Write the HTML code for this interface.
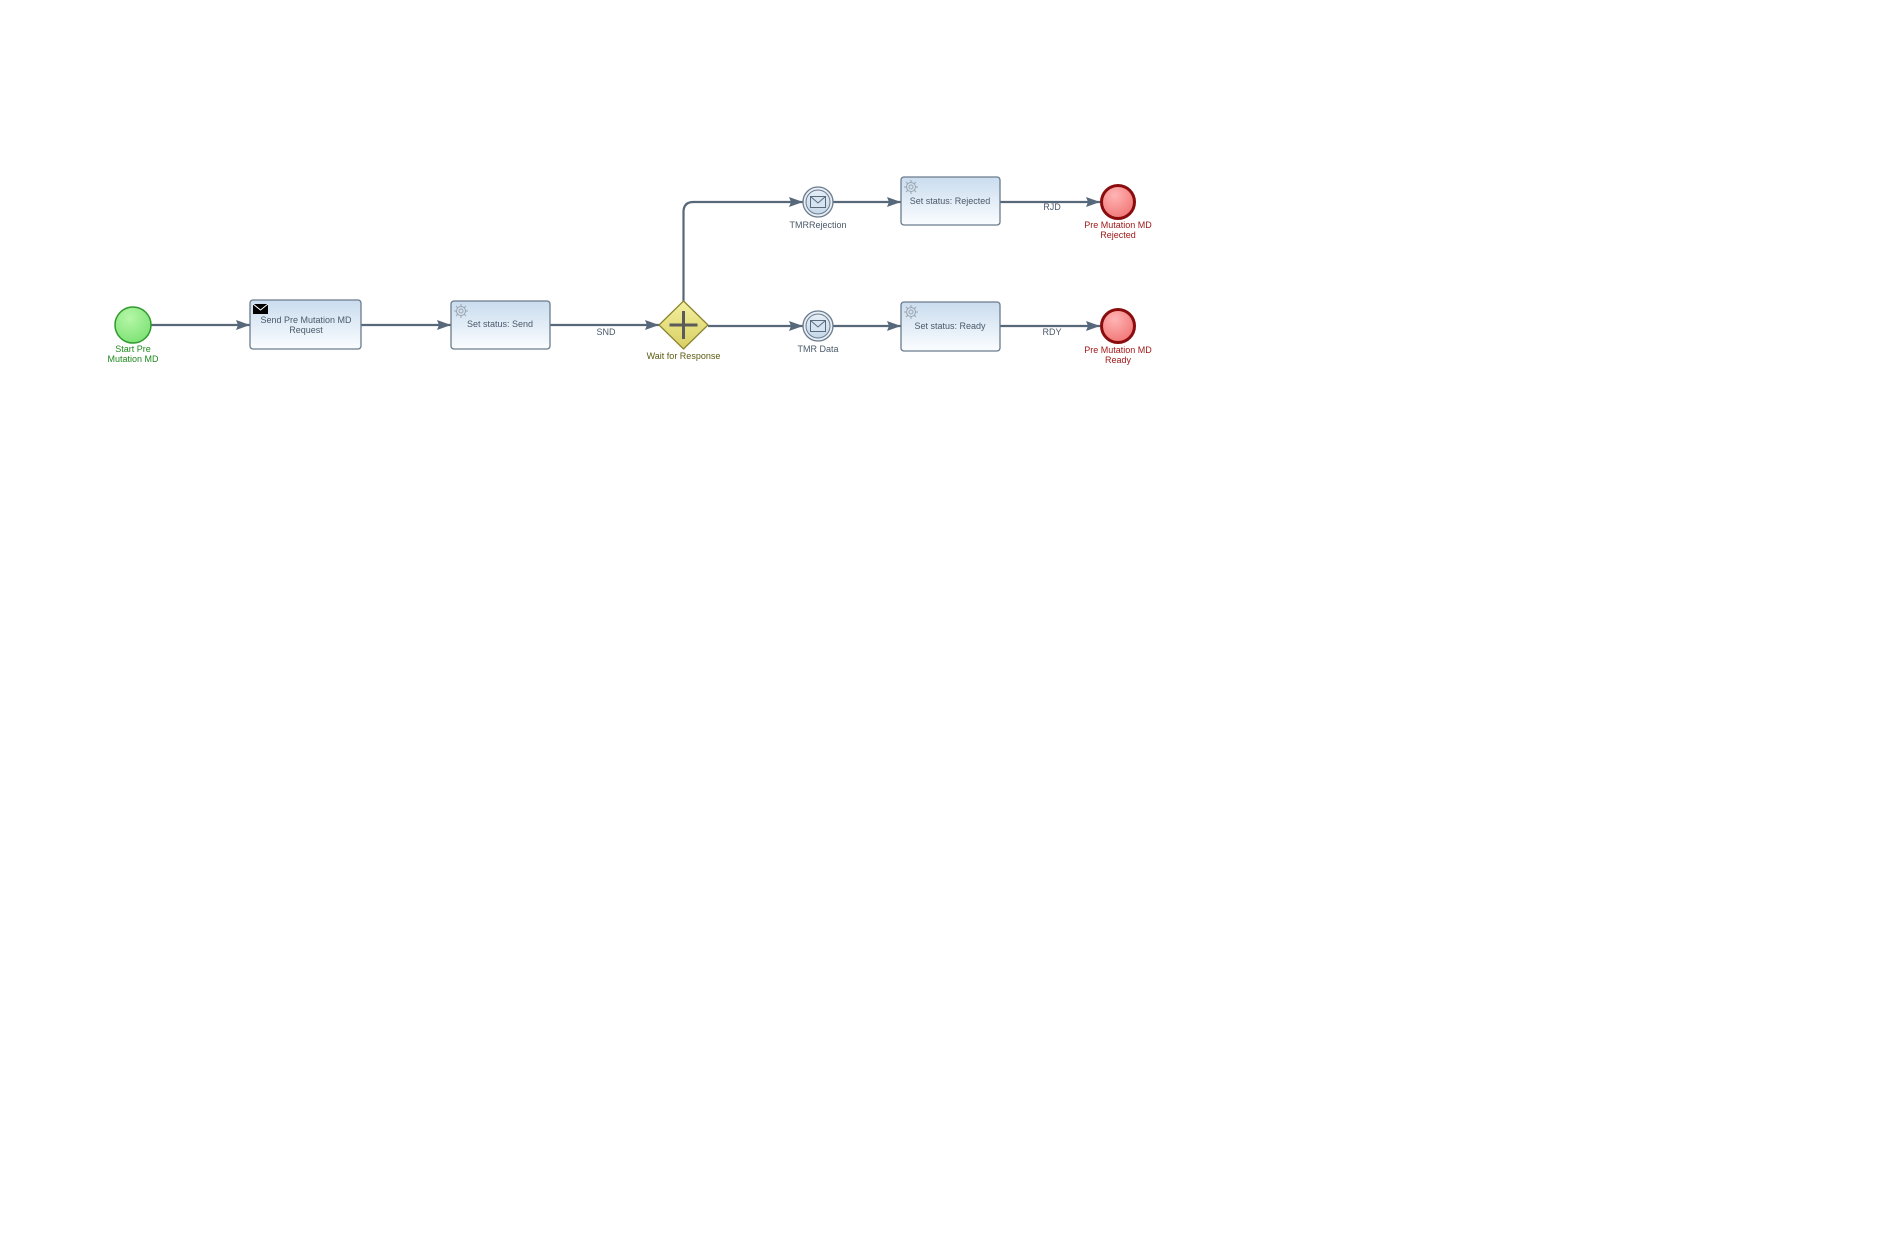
<!DOCTYPE html>
<html><head><meta charset="utf-8"><style>
html,body{margin:0;padding:0;background:#fff;}
svg{display:block;}
text{font-family:"Liberation Sans",Arial,sans-serif;font-size:9px;}
</style></head><body>
<svg width="1890" height="1235" viewBox="0 0 1890 1235" xmlns="http://www.w3.org/2000/svg">
<defs>
<linearGradient id="tg" x1="0" y1="0" x2="0" y2="1"><stop offset="0" stop-color="#c9dcee"/><stop offset="1" stop-color="#fbfdff"/></linearGradient>
<radialGradient id="gg" cx="0.4" cy="0.3" r="0.8"><stop offset="0" stop-color="#b6f7a8"/><stop offset="1" stop-color="#78e070"/></radialGradient>
<radialGradient id="rg" cx="0.4" cy="0.3" r="0.8"><stop offset="0" stop-color="#ffb4b4"/><stop offset="1" stop-color="#f07070"/></radialGradient>
<linearGradient id="yg" x1="0" y1="0" x2="0" y2="1"><stop offset="0" stop-color="#f4f0a0"/><stop offset="1" stop-color="#d8cf62"/></linearGradient>
<linearGradient id="eg" x1="0" y1="0" x2="0" y2="1"><stop offset="0" stop-color="#e6eef7"/><stop offset="1" stop-color="#c6d8ea"/></linearGradient>
<marker id="ar" markerWidth="14" markerHeight="10" refX="14" refY="5" orient="auto" markerUnits="userSpaceOnUse"><path d="M0,0 L14,5 L0,10 L2,5 z" fill="#56687a"/></marker>
<g id="gear" fill="none" stroke="#9aa4ae" stroke-width="1"><circle r="4.5"/><circle r="2"/><path d="M0,-7V-4.5M0,7V4.5M-7,0H-4.5M7,0H4.5M-5,-5L-3.2,-3.2M5,5L3.2,3.2M-5,5L-3.2,3.2M5,-5L3.2,-3.2"/></g>
<g id="ev"><circle r="15" fill="#e8eff7" stroke="#6a7b8c" stroke-width="1.3"/><circle r="12" fill="url(#eg)" stroke="#6a7b8c" stroke-width="1"/><rect x="-7.5" y="-5.5" width="15" height="11" fill="#d6e4f2" stroke="#5a6b7c" stroke-width="1"/><path d="M-7.5,-5.5 L0,1 L7.5,-5.5" fill="none" stroke="#5a6b7c" stroke-width="1"/></g>
</defs>

<g stroke="#56687a" stroke-width="2.2" fill="none">
<line x1="151" y1="325" x2="250" y2="325" marker-end="url(#ar)"/>
<line x1="361" y1="325" x2="451" y2="325" marker-end="url(#ar)"/>
<line x1="550" y1="325" x2="659" y2="325" marker-end="url(#ar)"/>
<line x1="708" y1="326" x2="803" y2="326" marker-end="url(#ar)"/>
<line x1="833" y1="326" x2="901" y2="326" marker-end="url(#ar)"/>
<line x1="1000" y1="326" x2="1100" y2="326" marker-end="url(#ar)"/>
<path d="M683.5,303 V212 Q683.5,202 693.5,202 H803" marker-end="url(#ar)"/>
<line x1="833" y1="202" x2="901" y2="202" marker-end="url(#ar)"/>
<line x1="1000" y1="202" x2="1100" y2="202" marker-end="url(#ar)"/>
</g>

<circle cx="133" cy="325" r="18" fill="url(#gg)" stroke="#2e9a2e" stroke-width="1.5"/>
<text x="133" y="352" text-anchor="middle" fill="#1e8a1e">Start Pre</text>
<text x="133" y="362" text-anchor="middle" fill="#1e8a1e">Mutation MD</text>

<rect x="250" y="300" width="111" height="49" rx="3" fill="url(#tg)" stroke="#6a7b8c" stroke-width="1.3"/>
<rect x="253" y="304" width="15" height="10" fill="#000"/>
<path d="M253,304 L260.5,310 L268,304" fill="none" stroke="#fff" stroke-width="1"/>
<text x="306" y="323" text-anchor="middle" fill="#4a5a6a">Send Pre Mutation MD</text>
<text x="306" y="333" text-anchor="middle" fill="#4a5a6a">Request</text>

<rect x="451" y="301" width="99" height="48" rx="3" fill="url(#tg)" stroke="#6a7b8c" stroke-width="1.3"/>
<use href="#gear" x="461" y="311"/>
<text x="500" y="327" text-anchor="middle" fill="#4a5a6a">Set status: Send</text>
<text x="606" y="335" text-anchor="middle" fill="#4a5a6a">SND</text>

<path d="M683.5,301 L708,325 L683.5,349 L659,325 Z" fill="url(#yg)" stroke="#8a8430" stroke-width="1.3"/>
<path d="M683.5,311 V339 M669.5,325 H697.5" stroke="#5a5a5a" stroke-width="3"/>
<text x="683.5" y="359" text-anchor="middle" fill="#5a5a10">Wait for Response</text>

<use href="#ev" x="818" y="202"/>
<text x="818" y="228" text-anchor="middle" fill="#4a5a6a">TMRRejection</text>
<use href="#ev" x="818" y="326"/>
<text x="818" y="352" text-anchor="middle" fill="#4a5a6a">TMR Data</text>

<rect x="901" y="177" width="99" height="48" rx="3" fill="url(#tg)" stroke="#6a7b8c" stroke-width="1.3"/>
<use href="#gear" x="911" y="187"/>
<text x="950" y="204" text-anchor="middle" fill="#4a5a6a">Set status: Rejected</text>
<text x="1052" y="210" text-anchor="middle" fill="#4a5a6a">RJD</text>

<rect x="901" y="302" width="99" height="49" rx="3" fill="url(#tg)" stroke="#6a7b8c" stroke-width="1.3"/>
<use href="#gear" x="911" y="312"/>
<text x="950" y="329" text-anchor="middle" fill="#4a5a6a">Set status: Ready</text>
<text x="1052" y="335" text-anchor="middle" fill="#4a5a6a">RDY</text>

<circle cx="1118" cy="202" r="16.5" fill="url(#rg)" stroke="#8a0c0c" stroke-width="3"/>
<text x="1118" y="228" text-anchor="middle" fill="#a01818">Pre Mutation MD</text>
<text x="1118" y="238" text-anchor="middle" fill="#a01818">Rejected</text>
<circle cx="1118" cy="326" r="16.5" fill="url(#rg)" stroke="#8a0c0c" stroke-width="3"/>
<text x="1118" y="353" text-anchor="middle" fill="#a01818">Pre Mutation MD</text>
<text x="1118" y="363" text-anchor="middle" fill="#a01818">Ready</text>
</svg>
</body></html>
